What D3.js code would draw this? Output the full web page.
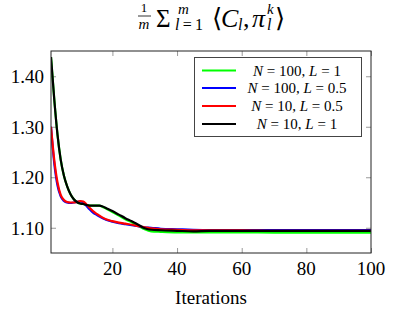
<!DOCTYPE html>
<html>
<head>
<meta charset="utf-8">
<script src="https://cdn.jsdelivr.net/npm/d3@7"></script>
<style>
  body { margin: 0; background: #fff; }
  text { font-family: "Liberation Serif", "DejaVu Serif", serif; fill: #000; }
</style>
</head>
<body>
<div id="chart"></div>
<script>
var iterations = [1,2,3,4,5,6,7,8,9,10,11,12,13,14,15,16,17,18,20,22,24,26,28,30,32,35,40,45,50,60,70,80,90,100];

var n100L1 = [1.438,1.355,1.285,1.235,1.203,1.182,1.167,1.157,1.151,1.148,1.147,1.145,1.144,1.144,1.144,1.144,1.141,1.138,1.131,1.124,1.117,1.111,1.104,1.097,1.093,1.092,1.091,1.091,1.091,1.091,1.0905,1.0905,1.0905,1.0905];
var n100L05 = [1.300,1.228,1.184,1.162,1.153,1.150,1.149,1.150,1.151,1.152,1.150,1.143,1.136,1.130,1.126,1.122,1.119,1.116,1.112,1.109,1.107,1.105,1.103,1.101,1.100,1.098,1.097,1.096,1.0955,1.0955,1.0955,1.0955,1.0955,1.0955];
var n10L05 = [1.300,1.235,1.190,1.165,1.155,1.151,1.150,1.150,1.151,1.153,1.152,1.146,1.139,1.133,1.128,1.124,1.120,1.117,1.113,1.110,1.108,1.106,1.103,1.101,1.099,1.097,1.096,1.095,1.095,1.095,1.094,1.094,1.094,1.094];
var n10L1 = [1.438,1.355,1.285,1.235,1.203,1.182,1.167,1.157,1.151,1.148,1.147,1.145,1.144,1.144,1.144,1.144,1.142,1.139,1.133,1.126,1.119,1.113,1.106,1.099,1.096,1.095,1.094,1.093,1.094,1.094,1.094,1.094,1.094,1.094];

var seriesNames = [["N","100","1"],["N","100","0.5"],["N","10","0.5"],["N","10","1"]];
var seriesColors = ["#00ff00","#0000ff","#ff0000","#000000"];
var seriesValues = [n100L1, n100L05, n10L05, n10L1];

var xTicks = [20,40,60,80,100];
var yTicks = [1.10,1.20,1.30,1.40];

var W = 394, H = 314;
var margin = {top: 51, right: 23, bottom: 61, left: 51};

var svg = d3.select("#chart").append("svg")
    .attr("width", W)
    .attr("height", H);

var x = d3.scaleLinear().domain([1,100]).range([margin.left, W - margin.right]);
var y = d3.scaleLinear().domain([1.05,1.45]).range([H - margin.bottom, margin.top]);

// title: 1/m sum_{l=1}^m <C_l, pi_l^k>
var title = svg.append("g").attr("class", "title");
function tt(px, py, size, italic, str) {
    return title.append("text").attr("x", px).attr("y", py)
        .style("font-size", size + "px")
        .style("font-style", italic ? "italic" : "normal")
        .text(str);
}
tt(144, 12, 13, false, "1").attr("text-anchor", "middle");
title.append("line").attr("x1", 138).attr("x2", 151).attr("y1", 16).attr("y2", 16)
    .attr("stroke", "#000").attr("stroke-width", 0.8);
tt(144, 28.5, 15, true, "m").attr("text-anchor", "middle");
tt(156, 27, 25, false, "\u03A3");
tt(178, 14, 15, true, "m");
var sub = title.append("text").attr("x", 175).attr("y", 30).style("font-size", "16px");
sub.append("tspan").style("font-style", "italic").text("l");
sub.append("tspan").text("\u2009=\u20091");
tt(212, 27, 26, false, "\u27E8");
tt(221, 27, 26, true, "C");
tt(238, 30, 16, true, "l");
tt(243, 27, 26, false, ",");
tt(252, 27, 26, true, "\u03C0");
tt(267, 14, 15, true, "k");
tt(267, 30, 16, true, "l");
tt(275, 27, 26, false, "\u27E9");

// clip
svg.append("clipPath").attr("id", "clip").append("rect")
    .attr("x", margin.left).attr("y", margin.top)
    .attr("width", x.range()[1] - x.range()[0])
    .attr("height", y.range()[0] - y.range()[1]);

// ticks inside the frame, on all four sides
var tickColor = "#9a9a9a", tl = 5;
var x0 = x.range()[0], x1 = x.range()[1], y0 = y.range()[0], y1 = y.range()[1];
svg.append("g").attr("transform", "translate(0," + y0 + ")")
    .call(d3.axisBottom(x).tickValues(xTicks).tickSize(-tl).tickFormat(""))
    .call(g => g.select(".domain").remove())
    .call(g => g.selectAll("line").attr("stroke", tickColor));
svg.append("g").attr("transform", "translate(0," + y1 + ")")
    .call(d3.axisTop(x).tickValues(xTicks).tickSize(-tl).tickFormat(""))
    .call(g => g.select(".domain").remove())
    .call(g => g.selectAll("line").attr("stroke", tickColor));
svg.append("g").attr("transform", "translate(" + x0 + ",0)")
    .call(d3.axisLeft(y).tickValues(yTicks).tickSize(-tl).tickFormat(""))
    .call(g => g.select(".domain").remove())
    .call(g => g.selectAll("line").attr("stroke", tickColor));
svg.append("g").attr("transform", "translate(" + x1 + ",0)")
    .call(d3.axisRight(y).tickValues(yTicks).tickSize(-tl).tickFormat(""))
    .call(g => g.select(".domain").remove())
    .call(g => g.selectAll("line").attr("stroke", tickColor));

// tick labels
svg.append("g").selectAll("text").data(xTicks).enter().append("text")
    .attr("x", d => x(d)).attr("y", 275)
    .attr("text-anchor", "middle")
    .style("font-size", "19px")
    .text(d => d);
svg.append("g").selectAll("text").data(yTicks).enter().append("text")
    .attr("x", 44).attr("y", d => y(d) + 7)
    .attr("text-anchor", "end")
    .style("font-size", "19px")
    .text(d => d3.format(".2f")(d));

// x label
svg.append("text").attr("x", (x0 + x1) / 2).attr("y", 304)
    .attr("text-anchor", "middle").style("font-size", "19px").text("Iterations");

// lines
var line = d3.line()
    .x((d, i) => x(iterations[i]))
    .y(d => y(d))
    .curve(d3.curveMonotoneX);

svg.append("g").attr("clip-path", "url(#clip)")
    .selectAll("path").data(seriesValues).enter().append("path")
    .attr("d", line)
    .attr("fill", "none")
    .attr("stroke", (d, i) => seriesColors[i])
    .attr("stroke-width", 2.2)
    .attr("stroke-linejoin", "round");

// frame
svg.append("rect")
    .attr("x", x0).attr("y", y1)
    .attr("width", x1 - x0).attr("height", y0 - y1)
    .attr("fill", "none").attr("stroke", "#222").attr("stroke-width", 1);

// legend
var lg = svg.append("g");
lg.append("rect").attr("x", 194.5).attr("y", 57.5).attr("width", 167).attr("height", 79)
    .attr("fill", "#fff").attr("stroke", "#444").attr("stroke-width", 1);
var rowY = [70.5, 88, 106, 124];
seriesNames.forEach(function(s, i) {
    lg.append("line").attr("x1", 202).attr("x2", 236)
        .attr("y1", rowY[i]).attr("y2", rowY[i])
        .attr("stroke", seriesColors[i]).attr("stroke-width", 2.2);
    var t = lg.append("text").attr("x", 297).attr("y", rowY[i] + 5)
        .attr("text-anchor", "middle").style("font-size", "15px");
    t.append("tspan").style("font-style", "italic").text(s[0]);
    t.append("tspan").text(" = " + s[1] + ",  ");
    t.append("tspan").style("font-style", "italic").text("L");
    t.append("tspan").text(" = " + s[2]);
});
</script>
</body>
</html>
